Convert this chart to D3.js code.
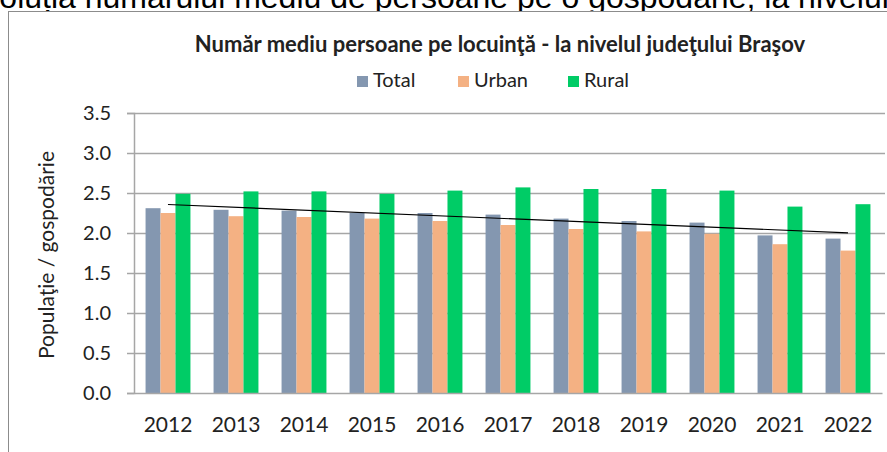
<!DOCTYPE html>
<html>
<head>
<meta charset="utf-8">
<script src="https://cdn.jsdelivr.net/npm/d3@7"></script>
<style>
  body { margin: 0; background: #fff; }
  svg { display: block; }
</style>
</head>
<body>
<svg id="chart" width="887" height="452"></svg>
<script>
const years = ["2012", "2013", "2014", "2015", "2016", "2017", "2018", "2019", "2020", "2021", "2022"];
const series = ["Total", "Urban", "Rural"];
const total = [2.31, 2.29, 2.28, 2.25, 2.25, 2.23, 2.18, 2.15, 2.13, 1.97, 1.93];
const urban = [2.25, 2.21, 2.20, 2.18, 2.15, 2.10, 2.05, 2.02, 1.99, 1.86, 1.78];
const rural = [2.49, 2.52, 2.52, 2.49, 2.53, 2.57, 2.55, 2.55, 2.53, 2.33, 2.36];
const yTicks = [0, 0.5, 1.0, 1.5, 2.0, 2.5, 3.0, 3.5];
const colors = ["#8497b0", "#f4b183", "#00cc66"];

const values = [total, urban, rural];
const rows = years.map((y, i) => ({ year: y, vals: values.map(v => v[i]) }));

const svg = d3.select("#chart");
const plotLeft = 134, plotRight = 882, plotTop = 113, plotBottom = 393;

svg.append("rect").attr("width", 887).attr("height", 452).attr("fill", "#fff");

// page heading, only its lower part shows above the chart frame
svg.append("text")
    .attr("x", -38).attr("y", 8)
    .attr("font-family", "Liberation Sans, Arial, sans-serif")
    .attr("font-size", 32)
    .attr("fill", "#000")
    .text("Evoluția numărului mediu de persoane pe o gospodărie, la nivelul");

// chart frame
svg.append("rect")
    .attr("x", 8.5).attr("y", 11.5)
    .attr("width", 900).attr("height", 460)
    .attr("fill", "#fff")
    .attr("stroke", "#8c8c8c");

const x = d3.scaleBand()
    .domain(years)
    .range([plotLeft, plotRight])
    .paddingInner(0.34)
    .paddingOuter(0.17);

const xs = d3.scaleBand()
    .domain(series)
    .range([0, x.bandwidth()]);

const y = d3.scaleLinear().domain([0, 3.5]).range([plotBottom, plotTop]);

// grid
svg.append("g")
    .selectAll("line")
    .data(yTicks.filter(d => d > 0))
    .join("line")
    .attr("x1", plotLeft).attr("x2", plotRight + 3)
    .attr("y1", d => Math.round(y(d)) + 0.5)
    .attr("y2", d => Math.round(y(d)) + 0.5)
    .attr("stroke", "#a6a6a6")
    .attr("stroke-width", 1.5);

// bars
const groups = svg.append("g")
    .selectAll("g")
    .data(rows)
    .join("g")
    .attr("transform", d => `translate(${x(d.year)},0)`);

groups.selectAll("rect")
    .data(d => d.vals.map((v, i) => ({ key: series[i], v, i })))
    .join("rect")
    .attr("x", d => xs(d.key))
    .attr("width", xs.bandwidth())
    .attr("y", d => y(d.v))
    .attr("height", d => y(0) - y(d.v))
    .attr("fill", d => colors[d.i]);

// linear trend of Total
const n = total.length;
const mx = d3.mean(d3.range(n)), my = d3.mean(total);
const slope = d3.sum(d3.range(n), i => (i - mx) * (total[i] - my)) / d3.sum(d3.range(n), i => (i - mx) ** 2);
const icpt = my - slope * mx;
const cx = yr => x(yr) + x.bandwidth() / 2;
svg.append("line")
    .attr("x1", cx(years[0])).attr("y1", y(icpt))
    .attr("x2", cx(years[n - 1])).attr("y2", y(icpt + slope * (n - 1)))
    .attr("stroke", "#000")
    .attr("stroke-width", 1.2);

// y axis
const yAxis = svg.append("g")
    .attr("transform", `translate(${plotLeft},0)`)
    .call(d3.axisLeft(y).tickValues(yTicks).tickFormat(d3.format(".1f")).tickSize(7).tickPadding(16));
yAxis.select(".domain").attr("stroke", "#a6a6a6").attr("stroke-width", 1.5);
yAxis.selectAll(".tick line").attr("stroke", "#a6a6a6").attr("stroke-width", 1.5);
yAxis.selectAll("text")
    .attr("font-family", "Lato, sans-serif")
    .attr("font-size", 20)
    .attr("fill", "#222");

// x axis
const xAxis = svg.append("g")
    .attr("transform", `translate(0,${plotBottom})`)
    .call(d3.axisBottom(x).tickSize(0).tickPadding(24));
xAxis.select(".domain").attr("stroke", "#a6a6a6").attr("stroke-width", 1.5);
xAxis.selectAll("text")
    .attr("font-family", "Lato, sans-serif")
    .attr("font-size", 21)
    .attr("fill", "#222");

// y title
svg.append("text")
    .attr("transform", "translate(54,255) rotate(-90)")
    .attr("text-anchor", "middle")
    .attr("font-family", "Lato, sans-serif")
    .attr("font-size", 21)
    .attr("fill", "#222")
    .text("Populaţie / gospodărie");

// chart title
svg.append("text")
    .attr("x", 500).attr("y", 52)
    .attr("text-anchor", "middle")
    .attr("font-family", "Lato, sans-serif")
    .attr("font-weight", "bold")
    .attr("font-size", 22)
    .attr("fill", "#222")
    .text("Număr mediu persoane pe locuinţă - la nivelul judeţului Braşov");

// legend
const legendX = [357, 458, 568];
const legend = svg.append("g")
    .selectAll("g")
    .data(series)
    .join("g")
    .attr("transform", (d, i) => `translate(${legendX[i]},76)`);
legend.append("rect")
    .attr("width", 11).attr("height", 11)
    .attr("fill", (d, i) => colors[i]);
legend.append("text")
    .attr("x", 16).attr("y", 11)
    .attr("font-family", "Lato, sans-serif")
    .attr("font-size", 20)
    .attr("fill", "#222")
    .text(d => d);
</script>
</body>
</html>
